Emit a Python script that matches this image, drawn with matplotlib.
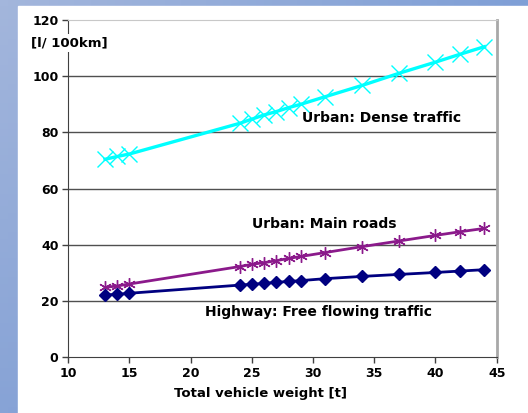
import numpy as np
import matplotlib.pyplot as plt

plt.rcParams['font.family'] = ['DejaVu Sans']
plt.rcParams['font.weight'] = 'bold'

# Data
weight = [13, 14, 15, 24, 25, 26, 27, 28, 29, 31, 34, 37, 40, 42, 44]
dense = [70.4, 71.4, 72.3, 83.2, 84.7, 86.2, 87.4, 88.8, 90.0, 92.7,
         96.7, 101.0, 105.0, 107.8, 110.5]
main_roads = [24.8, 25.3, 26.0, 32.2, 33.0, 33.6, 34.3, 35.1, 35.8, 37.2,
              39.3, 41.3, 43.3, 44.6, 45.8]
highway = [22.1, 22.3, 22.7, 25.6, 25.9, 26.2, 26.6, 26.9, 27.2, 27.9,
           28.7, 29.4, 30.1, 30.6, 31.1]
x_ticks = [10, 15, 20, 25, 30, 35, 40, 45]
y_ticks = [0, 20, 40, 60, 80, 100, 120]

W, H = 528, 413
fig = plt.figure(figsize=(W / 100, H / 100), dpi=100)

# blue slide border (gradient)
bg = fig.add_axes([0, 0, 1, 1])
gx = np.linspace(0, 1, 64)
gy = np.linspace(0, 1, 64)
GX, GY = np.meshgrid(gx, gy)
c_tl = np.array([0xa3, 0xb6, 0xdc]) / 255
c_bl = np.array([0x87, 0xa3, 0xd6]) / 255
c_tr = np.array([0x7f, 0x9f, 0xd6]) / 255
img = (c_tl[None, None, :] * (1 - GX[..., None]) * (1 - GY[..., None])
       + c_bl[None, None, :] * (1 - GX[..., None]) * GY[..., None]
       + c_tr[None, None, :] * GX[..., None])
bg.imshow(img, extent=[0, 1, 0, 1], aspect='auto', origin='upper')
bg.add_patch(plt.Rectangle((18 / W, 0), 1, 1 - 6 / H, color='white'))
bg.set_xlim(0, 1)
bg.set_ylim(0, 1)
bg.axis('off')

left, right = 68.3 / W, 496.7 / W
bottom, top = 1 - 357 / H, 1 - 20 / H
ax = fig.add_axes([left, bottom, right - left, top - bottom])
ax.set_facecolor('white')

ax.plot(weight, dense, color='#00ffff', lw=2.4, marker='x', ms=11, mew=1.0)
ax.plot(weight, main_roads, color='#8b1a8b', lw=2.0, marker=(6, 2, 0), ms=9, mew=1.0)
ax.plot(weight, highway, color='#000080', lw=2.0, marker='D', ms=6)

ax.set_xlim(10, 45)
ax.set_ylim(0, 120)
ax.set_xticks(x_ticks)
ax.set_yticks(y_ticks)
ax.tick_params(labelsize=9, length=4, width=1, color='#404040', pad=3)
for lab in ax.get_xticklabels() + ax.get_yticklabels():
    lab.set_fontweight('bold')

for v in y_ticks[1:-1]:
    ax.axhline(v, color='#505050', lw=1.0, zorder=0)

ax.spines['left'].set_color('#404040')
ax.spines['bottom'].set_color('#404040')
ax.spines['top'].set_color('#c8c8c8')
ax.spines['right'].set_color('#a8a8a8')
ax.spines['right'].set_linewidth(2)

ax.text(29.07, 85.1, 'Urban: Dense traffic', fontsize=10, fontweight='bold',
        va='center', ha='left')
ax.text(25.0, 47.4, 'Urban: Main roads', fontsize=10, fontweight='bold',
        va='center', ha='left')
ax.text(21.2, 16.1, 'Highway: Free flowing traffic', fontsize=10,
        fontweight='bold', va='center', ha='left')

fig.text(69 / W, 1 - 43 / H, '[l/ 100km]', fontsize=9.5, fontweight='bold',
         ha='center', va='center',
         bbox=dict(facecolor='white', edgecolor='none', pad=1.5))
fig.text(260.5 / W, 1 - 394 / H, 'Total vehicle weight [t]', fontsize=9.5,
         fontweight='bold', ha='center', va='center')

fig.savefig('out.png', dpi=100)
